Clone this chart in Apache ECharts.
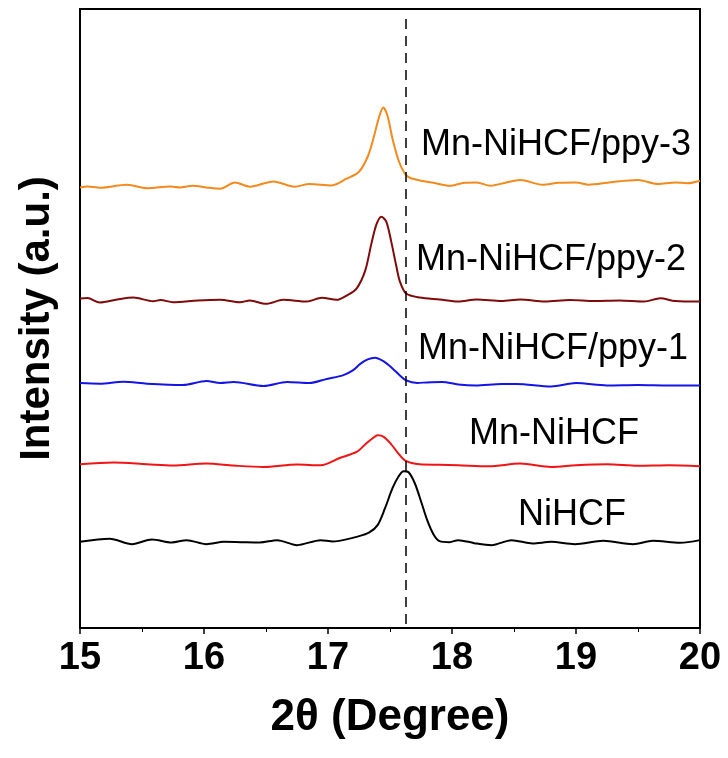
<!DOCTYPE html>
<html>
<head>
<meta charset="utf-8">
<title>XRD patterns</title>
<script src="https://cdn.jsdelivr.net/npm/echarts@6/dist/echarts.min.js"></script>
<style>
  html, body { margin: 0; padding: 0; background: #fff; }
  #chart { width: 728px; height: 758px; }
</style>
</head>
<body>
<div id="chart"></div>
<script>
// XRD patterns, 2θ = 15–20°, stacked with vertical offsets (a.u.)
const sampleNames = ['NiHCF', 'Mn-NiHCF', 'Mn-NiHCF/ppy-1', 'Mn-NiHCF/ppy-2', 'Mn-NiHCF/ppy-3'];
const sampleColors = ['#000000', '#f01414', '#1414e6', '#7f0a0a', '#f28a1e'];
const stackOffsets = [86, 164, 245, 328, 445];
const referencePeak = 17.63;
const xTicks = [15, 16, 17, 18, 19, 20];

// [2θ (degree), intensity above baseline (a.u.)]
const niHCF = [
  [15.00, 0.3], [15.24, 3.3], [15.42, -2], [15.58, 2.7], [15.74, -0.3], [15.86, 2],
  [16.02, -2], [16.16, 0.3], [16.30, 0], [16.45, -0.3], [16.59, 2], [16.75, -3],
  [16.94, 2], [17.04, 0.7], [17.14, 2.5], [17.23, 5.3], [17.33, 9.5], [17.40, 17],
  [17.46, 34], [17.52, 54], [17.57, 66], [17.61, 71], [17.65, 70], [17.70, 59],
  [17.75, 41], [17.80, 22], [17.85, 8], [17.90, 1], [17.98, 0], [18.05, 2],
  [18.18, -1], [18.32, -3], [18.48, 2], [18.65, -1.3], [18.80, 0.3], [18.99, -2],
  [19.22, 1.3], [19.46, -2], [19.62, 1.3], [19.84, -0.7], [20.00, 2]
];
const mnNiHCF = [
  [15.00, 0], [15.27, 1.7], [15.54, 0], [15.75, -1.3], [16.02, 0.7], [16.24, -1.3],
  [16.48, -2.7], [16.75, -0.3], [16.94, -1], [17.10, 6.5], [17.23, 12.3], [17.31, 21],
  [17.36, 26], [17.40, 29], [17.45, 27.5], [17.51, 20], [17.56, 12], [17.62, 4],
  [17.74, 0], [17.90, -0.5], [18.05, -1], [18.30, -2], [18.55, 0.7], [18.80, -2.7],
  [19.00, -1], [19.25, 0], [19.50, -1.5], [19.75, -1], [20.00, -2]
];
const ppy1 = [
  [15.00, 0.3], [15.16, -0.3], [15.35, 1.7], [15.54, -0.3], [15.83, -1.7], [16.02, 2.3],
  [16.13, 0.3], [16.24, 1.3], [16.48, -2.7], [16.67, 1.3], [16.85, 0.3], [16.99, 4.5],
  [17.12, 8], [17.20, 13], [17.26, 19.5], [17.32, 24], [17.38, 25.7], [17.45, 22],
  [17.52, 15], [17.58, 8], [17.63, 3], [17.72, 0.5], [17.80, 1], [17.92, 1.3],
  [18.05, -1], [18.19, -2], [18.40, -0.5], [18.52, -0.5], [18.80, -3], [19.00, 0.3],
  [19.25, -2], [19.50, -1.5], [19.75, -2], [20.00, -2]
];
const ppy2 = [
  [15.00, 2], [15.06, 2.5], [15.16, -2], [15.30, 1], [15.43, 3], [15.59, -0.7],
  [15.65, 0.5], [15.75, -1.7], [15.95, 0], [16.13, 0.7], [16.29, -1.7], [16.37, 0],
  [16.50, -3.3], [16.64, 0.7], [16.83, -1], [16.95, 2.7], [17.07, 0.7], [17.15, 5],
  [17.23, 12], [17.30, 30], [17.35, 57], [17.39, 76], [17.43, 84], [17.47, 79],
  [17.51, 59], [17.55, 35], [17.58, 19], [17.63, 7], [17.74, 3], [17.90, 1],
  [18.05, -1], [18.20, 1], [18.40, -0.5], [18.55, 1], [18.75, -1], [18.95, 0.5],
  [19.15, -0.5], [19.35, 0], [19.55, -1], [19.68, 2.3], [19.80, -0.5], [20.00, -1]
];
const ppy3 = [
  [15.00, -3.7], [15.06, -2.7], [15.16, -4], [15.38, -1], [15.54, -4.5], [15.73, -2.7],
  [15.81, -3.7], [15.91, -2], [16.02, -3.7], [16.13, -5], [16.25, 1.3], [16.37, -3],
  [16.56, 2.3], [16.73, -3], [16.85, -0.3], [17.03, -1.7], [17.15, 5], [17.25, 12],
  [17.32, 27], [17.37, 47], [17.41, 66], [17.445, 76.3], [17.48, 68], [17.52, 45],
  [17.57, 23], [17.62, 10], [17.66, 6], [17.75, 3], [17.85, 1], [17.98, -2], [18.10, 1],
  [18.20, 1.3], [18.31, -2], [18.43, 1], [18.55, 3.7], [18.73, -1], [18.86, 1],
  [19.00, 1.3], [19.10, -1], [19.28, 1.5], [19.50, 3.7], [19.66, -0.3], [19.80, 1.3],
  [19.90, 0.5], [20.00, 3]
];
const patterns = [niHCF, mnNiHCF, ppy1, ppy2, ppy3];

const chart = echarts.init(document.getElementById('chart'), null, { renderer: 'canvas' });

const series = patterns.map((pts, i) => ({
  name: sampleNames[i],
  type: 'line',
  data: pts.map(p => [p[0], p[1] + stackOffsets[i]]),
  smooth: 0.3,
  showSymbol: false,
  lineStyle: { color: sampleColors[i], width: 2 },
  z: 3,
  markLine: i === 0 ? {
    silent: true,
    symbol: 'none',
    label: { show: false },
    lineStyle: { color: '#000', type: [10, 7], width: 1.5 },
    data: [[{ coord: [referencePeak, 610] }, { coord: [referencePeak, 4] }]]
  } : undefined
}));

const boldFont = '"Liberation Sans", Arial, sans-serif';
const labelFont = '36px "Liberation Sans", Arial, sans-serif';
const labelSpots = [
  { text: sampleNames[4], x: 421, y: 145 },
  { text: sampleNames[3], x: 416, y: 260 },
  { text: sampleNames[2], x: 418, y: 349 },
  { text: sampleNames[1], x: 469, y: 434 },
  { text: sampleNames[0], x: 518, y: 515 }
];

chart.setOption({
  animation: false,
  backgroundColor: '#fff',
  grid: {
    left: 80, right: 28, top: 9, bottom: 130,
    show: true, borderColor: '#000', borderWidth: 2, backgroundColor: 'transparent'
  },
  xAxis: {
    type: 'value',
    min: xTicks[0], max: xTicks[xTicks.length - 1], interval: 1,
    name: '2θ (Degree)',
    nameLocation: 'middle',
    nameGap: 68,
    nameTextStyle: { fontFamily: boldFont, fontWeight: 'bold', fontSize: 44, color: '#000' },
    axisLine: { show: true, lineStyle: { color: '#000', width: 2 } },
    axisTick: { show: true, inside: false, length: 6, lineStyle: { color: '#000', width: 1.5 } },
    minorTick: { show: true, splitNumber: 2, length: 4, lineStyle: { color: '#000', width: 1 } },
    axisLabel: { margin: 12, color: '#000', fontSize: 38, fontWeight: 'bold', fontFamily: boldFont },
    splitLine: { show: false }
  },
  yAxis: {
    type: 'value',
    min: 0, max: 620,
    name: 'Intensity (a.u.)',
    nameLocation: 'middle',
    nameGap: 22,
    nameTextStyle: { fontFamily: boldFont, fontWeight: 'bold', fontSize: 42, color: '#000' },
    axisLine: { show: true, lineStyle: { color: '#000', width: 2 } },
    axisTick: { show: false },
    axisLabel: { show: false },
    splitLine: { show: false }
  },
  graphic: labelSpots.map(s => ({
    type: 'text',
    x: s.x, y: s.y,
    style: { text: s.text, font: labelFont, fill: '#000', textAlign: 'left', textVerticalAlign: 'middle' },
    z: 10
  })),
  series: series
});
</script>
</body>
</html>
